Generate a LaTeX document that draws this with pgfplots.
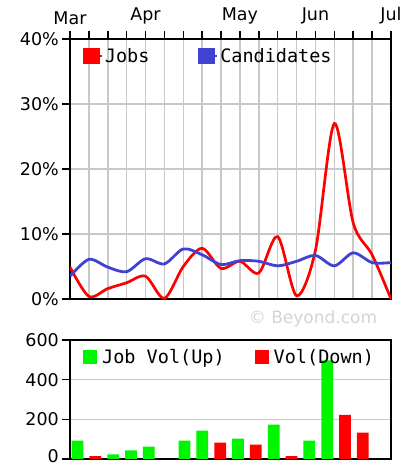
\documentclass[border=0pt]{standalone}
\usepackage{fontspec}
\setmainfont{DejaVu Sans}
\newfontfamily\legfont{DejaVu Sans Mono}
\usepackage{pgfplots}
\pgfplotsset{compat=1.18}
\definecolor{jobred}{RGB}{255,0,0}
\definecolor{candblue}{RGB}{66,66,210}
\definecolor{volgreen}{RGB}{0,245,0}
\definecolor{gridgray}{RGB}{200,200,200}
\definecolor{wmgray}{RGB}{212,212,212}
\pgfplotsset{
  common/.style={
    scale only axis, anchor=north west, width=321pt,
    tick align=outside, major tick length=8pt,
    grid style={gridgray, line width=1.5pt},
    axis line style={black, line width=1.8pt},
    tick style={black, line width=1.5pt},
    ticklabel style={font=\fontsize{17.5}{20}\selectfont},
    yticklabel style={inner sep=1pt, xshift=-2pt},
    /pgf/number format/assume math mode=true,
    ytick pos=left,
    legend cell align=left,
    legend columns=2,
    legend style={at={(rel axis cs:0,1)}, anchor=north west, xshift=13pt, yshift=-7pt,
      draw=none, fill=none, inner sep=0pt,
      font=\legfont\fontsize{18.5}{20}\selectfont},
  }
}
\begin{document}
\begin{tikzpicture}[x=1pt,y=1pt]
\useasboundingbox (0,0) rectangle (401,-468);
\begin{axis}[common,
  at={(70pt,-39pt)}, height=260pt,
  xmin=0, xmax=17, ymin=0, ymax=40,
  xtick={0,...,17}, xticklabels={Mar,,,,Apr,,,,,May,,,,Jun,,,,Jul},
  xtick pos=right, xticklabel pos=right,
  xticklabel style={yshift=3pt},
  ytick={0,10,20,30,40}, yticklabel={\pgfmathprintnumber{\tick}\%},
  grid=major,
  legend style={/tikz/every even column/.append style={column sep=47pt}},
]
\addplot[jobred, line width=2.7pt, smooth,
  legend image code/.code={\fill[jobred] (0pt,-7pt) rectangle (14pt,7pt); \path (0pt,0pt) -- (17pt,0pt);}]
  coordinates {(0,4.9) (1,0.4) (2,1.6) (3,2.5) (4,3.5) (5,0.1) (6,5.0) (7,7.8) (8,4.7)
    (9,5.8) (10,4.0) (11,9.6) (12,0.5) (13,7.5) (14,27.0) (15,11.7) (16,6.8) (17,0)};
\addlegendentry{Jobs}
\addplot[candblue, line width=2.8pt, smooth,
  legend image code/.code={\fill[candblue] (0pt,-7pt) rectangle (14pt,7pt); \path (0pt,0pt) -- (17pt,0pt);}]
  coordinates {(0,3.5) (1,6.1) (2,4.9) (3,4.2) (4,6.2) (5,5.4) (6,7.7) (7,6.8) (8,5.3)
    (9,5.9) (10,5.8) (11,5.1) (12,5.8) (13,6.7) (14,5.1) (15,7.1) (16,5.6) (17,5.6)};
\addlegendentry{Candidates}
\end{axis}
\node[text=wmgray, font=\fontsize{17}{18}\selectfont] at (313,-319) {© Beyond.com};
\begin{axis}[common,
  at={(70pt,-340pt)}, height=119pt,
  xmin=0, xmax=18, ymin=0, ymax=600,
  xtick=\empty, ytick={200,400,600}, ymajorgrids,
  extra y ticks={0}, extra y tick style={yticklabel style={yshift=2.5pt}, grid=none},
  ybar, bar width=11.7pt, bar shift=0pt,
  legend style={/tikz/every even column/.append style={column sep=28pt}},
]
\addplot[fill=volgreen, draw=none,
  legend image code/.code={\fill[volgreen] (0pt,-7pt) rectangle (14pt,7pt); \path (0pt,0pt) -- (17pt,0pt);}]
  coordinates {(0.42,93) (2.42,23) (3.42,43) (4.42,63) (6.42,93) (7.42,143) (9.42,103)
    (11.42,173) (13.42,93) (14.42,497)};
\addlegendentry{Job Vol(Up)}
\addplot[fill=jobred, draw=none,
  legend image code/.code={\fill[jobred] (0pt,-7pt) rectangle (14pt,7pt); \path (0pt,0pt) -- (17pt,0pt);}]
  coordinates {(1.42,15) (8.42,83) (10.42,73) (12.42,15) (15.42,223) (16.42,133)};
\addlegendentry{Vol(Down)}
\end{axis}
\end{tikzpicture}
\end{document}
